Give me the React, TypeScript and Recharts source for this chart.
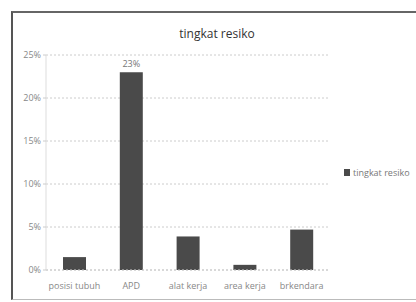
import { BarChart, Bar, XAxis, YAxis, CartesianGrid, LabelList } from 'recharts';

const categories = ['posisi tubuh', 'APD', 'alat kerja', 'area kerja', 'brkendara'];
const riskValues = [1.5, 23, 3.9, 0.6, 4.7];
const yTicks = [0, 5, 10, 15, 20, 25];
const seriesName = 'tingkat resiko';

const data = categories.map((name, i) => ({ name, value: riskValues[i] }));

const FONT = '"Open Sans", "Liberation Sans", sans-serif';

// only the top bar carries a data label in the original
const renderTopLabel = (props: any) => {
    const { x, y, width, value } = props;
    if (value !== Math.max(...riskValues)) return null;
    return (
        <text x={x + width / 2} y={y - 5} textAnchor="middle" fontSize={9} fill="#777" fontFamily={FONT}>
            {`${value}%`}
        </text>
    );
};

export default function App() {
    return (
        <div style={{ position: 'relative', width: 416, height: 302, overflow: 'hidden', background: '#fff' }}>
            <style>{'body{margin:0}'}</style>
            <div
                style={{
                    position: 'absolute',
                    left: 11,
                    top: 11,
                    width: 420,
                    height: 286,
                    borderLeft: '2px solid #555',
                    borderTop: '2px solid #666',
                    borderBottom: '1px solid #bbb',
                }}
            />
            <div
                style={{
                    position: 'absolute',
                    left: 0,
                    top: 25,
                    width: 434,
                    textAlign: 'center',
                    fontFamily: FONT,
                    fontSize: 12,
                    color: '#333',
                }}
            >
                {seriesName}
            </div>
            {/* legend sits to the right of the plot, outside the chart's layout */}
            <div
                style={{
                    position: 'absolute',
                    left: 344,
                    top: 166,
                    display: 'flex',
                    alignItems: 'center',
                    fontFamily: FONT,
                    fontSize: 9,
                    color: '#777',
                    whiteSpace: 'nowrap',
                }}
            >
                <span style={{ width: 6, height: 7, background: '#4a4a4a', marginRight: 3, display: 'inline-block' }} />
                {seriesName}
            </div>
            <div style={{ position: 'absolute', left: 0, top: 0 }}>
                <BarChart width={416} height={302} data={data} margin={{ top: 55, right: 86, left: 11, bottom: 2 }}>
                    <CartesianGrid vertical={false} stroke="#ccc" strokeDasharray="2 2" />
                    <XAxis
                        dataKey="name"
                        axisLine={{ stroke: '#ccc', strokeDasharray: '2 2' }}
                        tickLine={false}
                        interval={0}
                        height={30}
                        tick={{ fontSize: 9, fill: '#888', fontFamily: FONT }}
                        tickMargin={7}
                    />
                    <YAxis
                        width={35}
                        domain={[0, 25]}
                        ticks={yTicks}
                        tickFormatter={(v: number) => `${v}%`}
                        axisLine={{ stroke: '#ddd' }}
                        tickLine={{ stroke: '#ccc' }}
                        tickSize={3}
                        tick={{ fontSize: 9, fill: '#888', fontFamily: FONT }}
                    />
                    <Bar dataKey="value" name={seriesName} fill="#4a4a4a" barSize={23} isAnimationActive={false}>
                        <LabelList dataKey="value" content={renderTopLabel} />
                    </Bar>
                </BarChart>
            </div>
        </div>
    );
}
